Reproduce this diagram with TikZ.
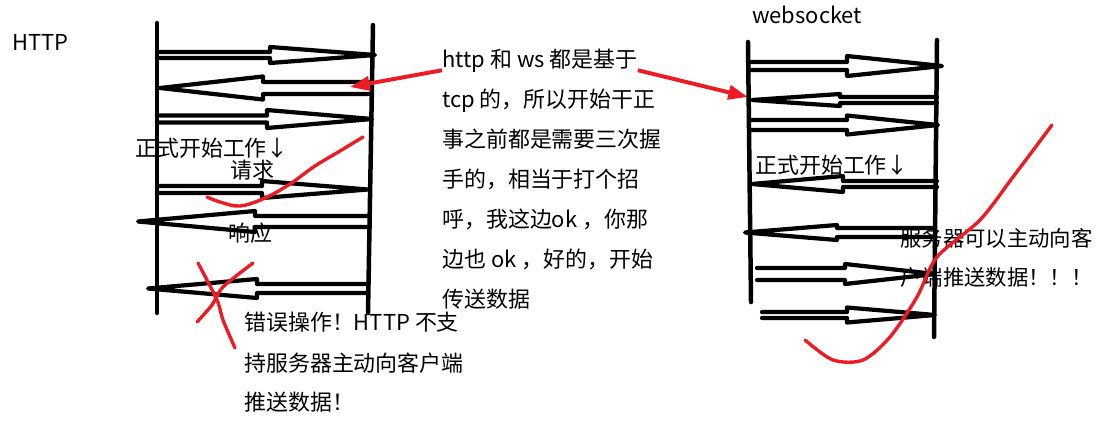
\documentclass[tikz,border=0pt]{standalone}
\usepackage{fontspec}
\setmainfont{Noto Sans CJK SC}
\usetikzlibrary{arrows.meta}
\definecolor{pen}{HTML}{000000}
\definecolor{marker}{HTML}{ED1C24}
\tikzset{
  lifeline/.style={pen, line width=3.2pt, line cap=round},
  fatline/.style={pen, line width=3pt, line join=round, line cap=round},
  scrawl/.style={marker, line width=2.4pt, line cap=round, line join=round},
  pointer/.style={marker, line width=2.8pt, -{Triangle[length=14pt, width=10pt]}},
  note/.style={font=\fontsize{15.6pt}{28pt}\selectfont, inner sep=0pt, anchor=west,
    text height=13.7pt, text depth=1.9pt},
}
% hollow arrow: base x, y, head x, tip x, shaft half width, head half width
\newcommand{\hollowarrow}[6]{%
  \draw[fatline] (#1,#2-#5) -- (#3,#2-#5) -- (#3,#2-#6) -- (#4,#2)
    -- (#3,#2+#6) -- (#3,#2+#5) -- (#1,#2+#5);}

\begin{document}
\begin{tikzpicture}[x=0.025cm, y=-0.025cm]
  \path[fill=white, use as bounding box] (0,0) rectangle (1099,440);
  % HTTP side
  \node[note] (http) at (12,42) {HTTP};
  \draw[lifeline] (157,23) -- (157,313);
  \draw[lifeline] (373,25) -- (368,313);
  \hollowarrow{157}{55}{270}{375}{3}{8}
  \hollowarrow{372}{88}{263}{160}{6}{11.5}
  \hollowarrow{157}{119}{267}{372}{3.5}{9}
  \node[note] (hstart) at (135,148) {正式开始工作↓};
  \node[note] (req) at (230,170) {请求};
  \hollowarrow{157}{189.5}{262}{368}{3.5}{8.5}
  \hollowarrow{370}{221.5}{255}{138}{5.5}{10.5}
  \node[note] (resp) at (228,233) {响应};
  \hollowarrow{368}{288.5}{257}{148}{4.5}{9.5}
  % red marks on the HTTP side
  \draw[scrawl] plot[smooth, tension=0.6] coordinates {(363,137) (340,151) (315,166) (290,184) (265,198) (240,206) (220,202) (207,197)};
  \draw[scrawl] plot[smooth] coordinates {(198,263) (217,300) (223,320) (235,348)};
  \draw[scrawl] plot[smooth] coordinates {(253,263) (223,287) (212,305) (197,322)};
  \node[note] (err1) at (244,322) {错误操作！HTTP 不支};
  \node[note] (err2) at (244,363) {持服务器主动向客户端};
  \node[note] (err3) at (244,402) {推送数据！};
  % middle note
  \foreach \t [count=\i] in {http 和 ws 都是基于, tcp 的，所以开始干正, 事之前都是需要三次握,
      手的，相当于打个招, 呼，我这边ok ，你那, 边也 ok ，好的，开始, 传送数据}
    \node[note] (tcp\i) at (442,19+40*\i) {\t};
  \coordinate (hshake) at (350,87);
  \coordinate (wshake) at (748,97);
  \draw[pointer] (tcp1.south west) -- (hshake);
  \draw[pointer] (tcp1.south east) -- (wshake);
  % websocket side
  \node[note] (ws) at (752,15) {websocket};
  \draw[lifeline] (748,42) -- (751,302);
  \draw[lifeline] (937,40) -- (934,337);
  \hollowarrow{750}{66}{847}{942}{4}{10}
  \hollowarrow{937}{100}{840}{752}{3}{6}
  \hollowarrow{750}{125}{847}{938}{5}{9.5}
  \node[note] (wstart) at (755,165) {正式开始工作↓};
  \hollowarrow{937}{184}{843}{752}{3}{8}
  \hollowarrow{935}{232.5}{837}{745}{4.5}{7.5}
  \hollowarrow{757}{274}{845}{935}{6}{10}
  \hollowarrow{762}{315}{847}{935}{3}{7.5}
  \node[note, font=\fontsize{15.2pt}{28pt}\selectfont] (push1) at (900,238) {服务器可以主动向客};
  \node[note, font=\fontsize{15.2pt}{28pt}\selectfont] (push2) at (900,277) {户端推送数据！！！};
  \draw[scrawl] plot[smooth] coordinates {(1052,125) (1013,177) (980,220) (937,257) (917,297) (890,337) (863,360) (833,360) (805,340)};
\end{tikzpicture}
\end{document}
